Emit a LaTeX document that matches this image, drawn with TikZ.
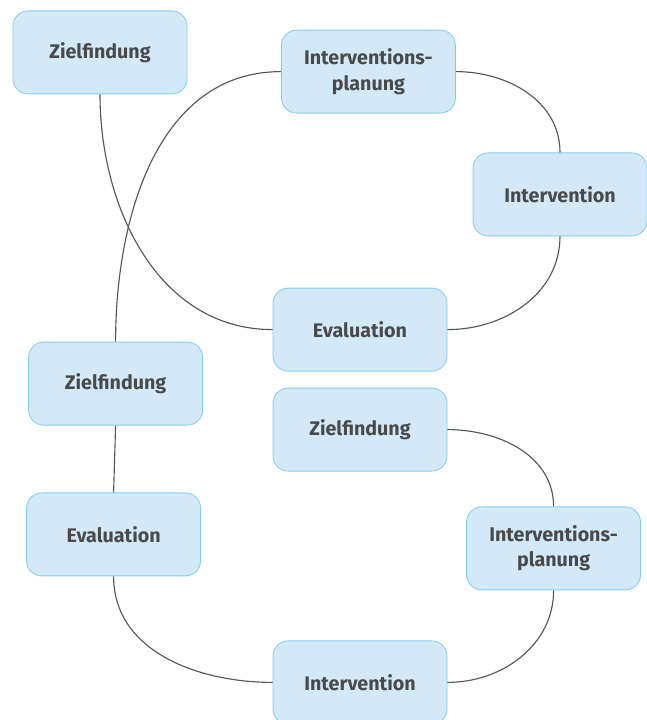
\documentclass[tikz,border=0pt]{standalone}
\usepackage{fontspec}
\setmainfont{Fira Sans}
\definecolor{boxfill}{HTML}{D3E9F8}
\definecolor{boxline}{HTML}{86CDEA}
\definecolor{textgray}{HTML}{4A4A4A}
\definecolor{linegray}{HTML}{555555}

\begin{document}
\begin{tikzpicture}[
	phase/.style={draw=boxline,line width=0.6pt,fill=boxfill,rounded corners=0.38cm,
		minimum width=4.35cm,minimum height=2.075cm,inner sep=0pt,align=center,
		text=textgray,font=\fontsize{14}{18}\selectfont\bfseries},
	link/.style={draw=linegray,line width=0.8pt}
	]
	\useasboundingbox (0,0) rectangle (16.175,-18);
	\node[phase] (ziel1) at (2.5,-1.31) {Zielfindung};
	\node[phase] (plan1) at (9.21,-1.79) {Interventions-\\planung};
	\node[phase] (int1) at (14.0,-4.86) {Intervention};
	\node[phase] (eval1) at (9.0,-8.24) {Evaluation};
	\node[phase] (ziel2) at (2.89,-9.59) {Zielfindung};
	\node[phase] (ziel3) at (9.0,-10.74) {Zielfindung};
	\node[phase] (eval2) at (2.84,-13.36) {Evaluation};
	\node[phase] (plan2) at (13.84,-13.71) {Interventions-\\planung};
	\node[phase] (int2) at (9.0,-17.06) {Intervention};
	\draw[link] (ziel1.south) to[out=-90,in=180] (eval1.west);
	\draw[link] (plan1.west) to[out=180,in=90] (ziel2.north);
	\draw[link] (plan1.east) to[out=0,in=90] (int1.north);
	\draw[link] (int1.south) to[out=-90,in=0] (eval1.east);
	\draw[link] (ziel2.south) -- (eval2.north);
	\draw[link] (eval2.south) to[out=-90,in=180] (int2.west);
	\draw[link] (int2.east) to[out=0,in=-90] (plan2.south);
	\draw[link] (ziel3.east) to[out=0,in=90] (plan2.north);
\end{tikzpicture}
\end{document}
